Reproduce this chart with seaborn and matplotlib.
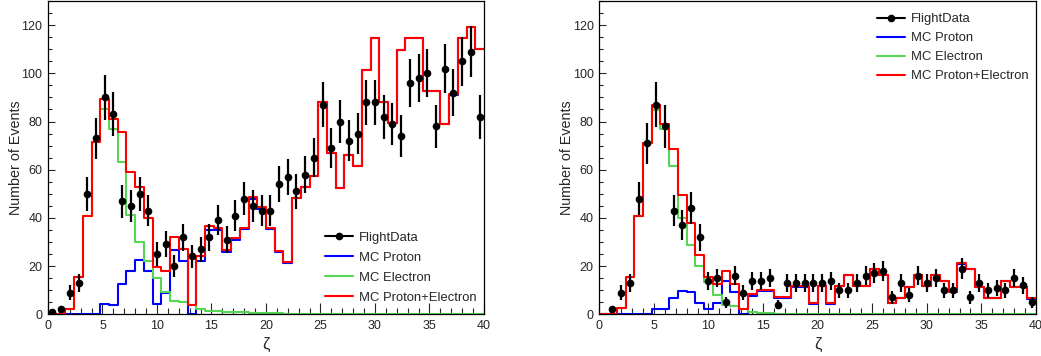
import numpy as np
import pandas as pd
import seaborn as sns
import matplotlib.pyplot as plt
from matplotlib.lines import Line2D
from matplotlib.ticker import MultipleLocator

# 50 bins of width 0.8 over zeta in [0, 40]
bin_width = 0.8
bin_centers = np.arange(50) * bin_width + bin_width / 2

# --- left panel ---
flight_left = [1, 2, 9, 13, 50, 73, 90, 83, 47, 45, 50, 43, 25, 29, 20, 32, 24, 27, 32, 39,
               31, 41, 48, 45, 43, 43, 54, 57, 51, 58, 65, 87, 69, 80, 72, 75, 88, 88, 82, 79,
               74, 96, 98, 100, 78, 102, 92, 105, 109, 82]
proton_left = [0, 0, 0, 0, 0, 0, 4.2, 4.0, 12.6, 18, 22.7, 18, 4.3, 8.7, 26.5, 22, 0, 22.2, 35.1, 34.8,
               25.7, 30.8, 35.2, 47.9, 43.9, 35.3, 26.0, 21.5, 48.1, 52.8, 57.2, 88.0, 67.0, 52.5, 66.0,
               61.6, 101.3, 114.7, 88.1, 79.4, 109.6, 114.7, 114.7, 92.7, 92.7, 78.9, 91.2, 114.7, 119.2, 109.9]
electron_left = [0, 0, 2.2, 15.6, 40.8, 71.4, 85, 77, 63, 41.2, 30, 22, 15.2, 9.4, 5.7, 5, 3.8, 2, 1.5, 1.2,
                 1, 1, 0.8, 0.6, 0.5, 0.4, 0.4, 0.3, 0.3, 0.2, 0.2, 0.2, 0.1, 0.1, 0.1, 0.1, 0.1, 0.1, 0.1, 0.1,
                 0.1, 0.1, 0.1, 0.1, 0.1, 0.1, 0.1, 0.1, 0.1, 0.1]

# --- right panel ---
flight_right = [0, 2, 9, 13, 48, 71, 87, 78, 43, 37, 44, 32, 14, 15, 5, 16, 9, 14, 14, 15,
                4, 13, 13, 13, 13, 13, 14, 10, 10, 13, 16, 17, 18, 7, 13, 8, 16, 13, 15, 10,
                10, 19, 7, 13, 10, 11, 10, 15, 12, 5]
proton_right = [0, 0, 0, 0, 0, 0, 2.1, 2.1, 6.9, 9.5, 9.4, 4.6, 2, 4.6, 14, 9.2, 0, 7.5, 9.5, 9.5,
                6.7, 6.7, 11.5, 11.5, 4.3, 11.6, 4.4, 11.6, 16.2, 11.6, 11.6, 18.9, 16.2, 4.5, 6.8,
                11.4, 16.2, 11.6, 16.2, 13.9, 9.3, 21.0, 18.6, 11.4, 6.8, 6.8, 13.9, 11.4, 11.4, 6.5]
electron_right = [0, 0, 2.5, 15.6, 40.8, 71.2, 84.7, 77, 61.7, 40, 28.6, 20, 13.5, 8, 4, 3.4, 2.2, 0.8, 0.5, 0.4,
                  0.3, 0.3, 0.2, 0.2, 0.2, 0.1, 0.1, 0.1, 0.1, 0.1, 0.1, 0.1, 0.1, 0.1, 0.1, 0.1, 0.1, 0.1, 0.1, 0.1,
                  0.1, 0.1, 0.1, 0.1, 0.1, 0.1, 0.1, 0.1, 0.1, 0.1]

legend_labels = ['FlightData', 'MC Proton', 'MC Electron', 'MC Proton+Electron']
c_proton, c_electron, c_sum = '#0000ff', '#55d655', '#ff0000'

sns.set_style('ticks')
plt.rcParams['font.family'] = ['Liberation Sans', 'DejaVu Sans']


def draw_panel(ax, flight, proton, electron, leg_loc, leg_anchor, leg_spacing):
    mc = pd.DataFrame({'zeta': bin_centers, 'proton': proton, 'electron': electron})
    mc['total'] = mc['proton'] + mc['electron']
    for col_name, col in [('proton', c_proton), ('electron', c_electron), ('total', c_sum)]:
        sns.histplot(data=mc, x='zeta', weights=col_name, binwidth=bin_width, binrange=(0, 40),
                     element='step', fill=False, color=col, linewidth=1.5, ax=ax)

    flight = np.array(flight, dtype=float)
    keep = flight > 0
    ax.errorbar(bin_centers[keep], flight[keep], yerr=np.sqrt(flight[keep]), xerr=0.25,
                fmt='o', color='black', markersize=4.5, elinewidth=1.6, capsize=0, zorder=5)

    ax.set_xlim(0, 40)
    ax.set_ylim(0, 130)
    ax.xaxis.set_major_locator(MultipleLocator(5))
    ax.xaxis.set_minor_locator(MultipleLocator(1))
    ax.yaxis.set_major_locator(MultipleLocator(20))
    ax.yaxis.set_minor_locator(MultipleLocator(5))
    ax.tick_params(which='both', direction='in', top=False, right=False, labelsize=9, width=0.8)
    ax.tick_params(axis='x', which='major', length=8, pad=4)
    ax.tick_params(axis='x', which='minor', length=4)
    ax.tick_params(axis='y', which='major', length=5, pad=4)
    ax.tick_params(axis='y', which='minor', length=3)
    for sp in ax.spines.values():
        sp.set_linewidth(0.9)
        sp.set_color('black')
    ax.set_xlabel('ζ', fontsize=12, labelpad=4)
    ax.set_ylabel('Number of Events', fontsize=10.3, labelpad=-1)

    handles = [Line2D([], [], color='black', marker='o', markersize=4.5, lw=1.5),
               Line2D([], [], color=c_proton, lw=1.5),
               Line2D([], [], color=c_electron, lw=1.5),
               Line2D([], [], color=c_sum, lw=1.5)]
    ax.legend(handles, legend_labels, loc=leg_loc, bbox_to_anchor=leg_anchor, frameon=False,
              fontsize=9.4, handlelength=2.14, handletextpad=0.46, labelspacing=leg_spacing,
              borderpad=0, borderaxespad=0)


fig = plt.figure(figsize=(10.41, 3.56), dpi=100)
ax1 = fig.add_axes([0.0461, 0.1171, 0.4188, 0.8800])
ax2 = fig.add_axes([0.5757, 0.1171, 0.4195, 0.8800])

draw_panel(ax1, flight_left, proton_left, electron_left, 'lower left', (0.635, 0.033), 0.6)
draw_panel(ax2, flight_right, proton_right, electron_right, 'upper left', (0.636, 0.962), 0.53)

fig.savefig('out.png', dpi=100)
